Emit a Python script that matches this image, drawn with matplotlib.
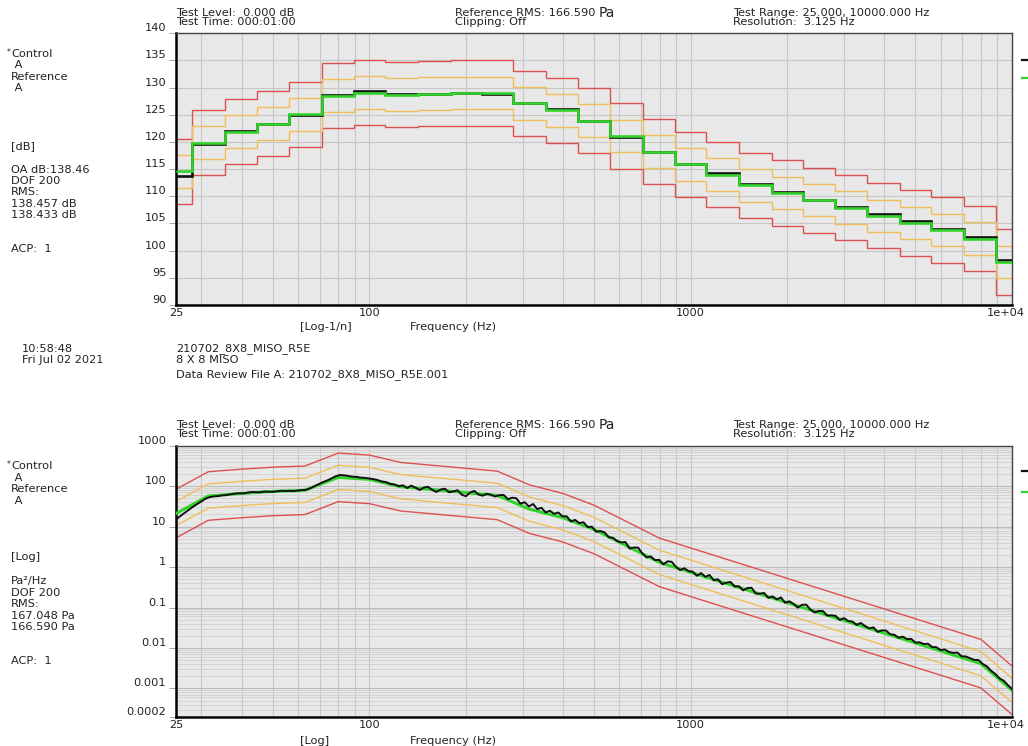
import numpy as np
import matplotlib
matplotlib.use("Agg")
import matplotlib.pyplot as plt
from matplotlib.ticker import FixedLocator, NullFormatter
from matplotlib.transforms import ScaledTranslation

plt.rcParams['font.family'] = ['DejaVu Sans']

W, H = 1028, 746

# 1/3 octave band centres and band levels for the SPL view
band_hz = [25, 31.5, 40, 50, 63, 80, 100, 125, 160, 200, 250, 315, 400, 500,
           630, 800, 1000, 1250, 1600, 2000, 2500, 3150, 4000, 5000, 6300, 8000, 10000]
band_ref_db = [114.6, 119.9, 121.9, 123.4, 125.1, 128.5, 129.1, 128.7, 128.9, 129.0,
               129.0, 127.1, 125.8, 123.9, 121.1, 118.2, 115.9, 114.0, 112.0, 110.6,
               109.3, 107.9, 106.4, 105.1, 103.8, 102.2, 97.9]
band_ctrl_db = [113.8, 119.6, 122.1, 123.4, 124.9, 128.7, 129.4, 128.8, 128.8, 129.0,
                128.9, 127.1, 126.0, 123.9, 121.0, 118.2, 116.0, 114.2, 112.2, 110.8,
                109.4, 108.1, 106.7, 105.4, 104.0, 102.5, 98.3]

# reference PSD profile breakpoints, Pa^2/Hz
ref_hz = [25, 31.5, 40, 50, 63, 80, 100, 125, 250, 315, 400, 500, 800, 8000, 10000]
ref_psd = [21, 57, 66, 74, 79, 165, 147, 97, 59, 27, 16.6, 8.5, 1.3, 0.0041, 0.0009]

# control PSD relative to the reference (dB), log-spaced 25 Hz .. 10 kHz
ctrl_dev_db = [
    -1.5, -1.2, -1.0, -0.8, -0.6, -0.5, -0.4, -0.3, -0.3, -0.2, -0.2, -0.1, -0.1,
    0.0, 0.1, 0.1, 0.0, 0.1, 0.2, 0.1, 0.0, 0.1, 0.0, -0.1, 0.0, 0.1, 0.0, 0.0, -0.1,
    0.0, 0.1, 0.0, 0.0, 0.1, 0.2, 0.3, 0.3, 0.4, 0.5, 0.6, 0.6, 0.5, 0.4, 0.4, 0.3, 0.3,
    0.2, 0.3, 0.3, 0.2, 0.3, 0.1, 0.2, 0.0,
    0.4, -0.2, 0.5, 0.1, -0.4, 0.3, 0.6, -0.1, -0.5, 0.2, 0.5, -0.3, 0.0, 0.4, -0.6,
    -0.9, 0.1, 0.6, -0.2, -0.4, 0.2, 0.0, -0.3,
    0.3, 0.8, 0.2, 1.0, 1.3, 0.4, 1.2, 0.6, 1.5, 0.5, 1.1, 0.2, 0.9, 0.4,
    1.0, 0.3, 0.7, -0.2, 0.6, 0.2, 0.8, 0.0, 0.5, -0.3, 0.4, 0.6, -0.1, 0.3, 0.0,
    0.2, 0.8, -0.3, 0.5, 1.0, 0.1, -0.4, 0.4, 0.0, 0.6, -0.2, 0.9, 1.1, 0.2, -0.3, 0.5, 0.1,
    0.3, -0.4, 0.6, 0.0, 0.8, -0.2, 0.4, -0.5, 0.2, 0.7, -0.1, 0.3, -0.4, 0.5, 0.9, -0.2,
    0.1, 0.6,
    -0.3, 0.4, 0.0, 0.8, -0.2, 0.5, 0.2, -0.4, 0.6, 1.0, 0.1, -0.3, 0.4, 0.7, -0.1, 0.3,
    0.5, -0.2, 0.6, 0.2,
    0.4, -0.1, 0.7, 0.3, 0.0, 0.6, -0.2, 0.5, 0.8, 0.2, 0.4, 0.0, 0.6, 0.3, 0.7, 0.1,
    0.5, 0.4, 0.8, 0.3,
    0.6, 0.2, 0.7, 0.4, 0.5, 0.9, 0.3, 0.6, 0.5, 0.4, 0.7, 0.3, 0.6, 0.4, 0.5, 0.3, 0.6,
    0.4, 0.3,
]

alarm_db = 3.0
abort_db = 6.0
f_lo, f_hi = 25, 10000

RED = '#dc5050'
YEL = '#f0be5a'
GRN = '#33d42a'
BLK = '#111111'
BG = '#e8e8e8'
FS = 8.2


def fx(x):
    return x / W


def fy(y):
    return 1 - y / H


fig = plt.figure(figsize=(W / 100, H / 100), dpi=100)
fig.patch.set_facecolor('white')


def text(x, y, s, **kw):
    kw.setdefault('fontsize', FS)
    return fig.text(fx(x), fy(y), s, va='center', ha=kw.pop('ha', 'left'),
                    color='#222222', **kw)


def style_axes(ax):
    ax.set_facecolor(BG)
    ax.set_xscale('log')
    ax.set_xlim(f_lo, f_hi)
    ax.xaxis.set_major_locator(FixedLocator([25, 100, 1000, 10000]))
    ax.xaxis.set_minor_locator(FixedLocator(
        [30, 40, 50, 60, 70, 80, 90] + [k * 100 for k in range(2, 10)] +
        [k * 1000 for k in range(2, 10)]))
    ax.set_xticklabels(['25', '100', '1000', '1e+04'])
    ax.xaxis.set_minor_formatter(NullFormatter())
    ax.tick_params(axis='x', which='both', length=0, pad=2.5, labelsize=FS, colors='#222222')
    ax.tick_params(axis='y', which='major', length=5, width=0.6, color='#999999',
                   pad=2, labelsize=FS, labelcolor='#222222')
    ax.tick_params(axis='y', which='minor', length=0)
    ax.grid(True, which='both', axis='x', color='#c6c6c6', lw=0.8)
    for side in ('left', 'bottom'):
        ax.spines[side].set_linewidth(1.8)
        ax.spines[side].set_color('black')
    for side in ('top', 'right'):
        ax.spines[side].set_linewidth(1.0)
        ax.spines[side].set_color('#444444')
    # keep the last frequency label inside the page
    last = ax.get_xticklabels()[-1]
    last.set_transform(last.get_transform() + ScaledTranslation(-6 / 100, 0, fig.dpi_scale_trans))


# ---- upper plot: 1/3 octave SPL ----
ax1 = fig.add_axes([fx(176), fy(305), fx(1012) - fx(176), fy(33.3) - fy(305)])
style_axes(ax1)
ax1.set_ylim(90, 140)
ax1.set_yticks(range(90, 141, 5))
ax1.grid(True, which='major', axis='y', color='#c6c6c6', lw=0.8)
for lab in ax1.get_yticklabels():
    lab.set_va('bottom')

centres = np.array(band_hz, dtype=float)
edges = np.concatenate([[f_lo], np.sqrt(centres[:-1] * centres[1:]), [f_hi]])
ref_db = np.array(band_ref_db)
for off, col in [(abort_db, RED), (-abort_db, RED), (alarm_db, YEL), (-alarm_db, YEL)]:
    ax1.stairs(ref_db + off, edges, baseline=None, color=col, lw=1.0, zorder=2)
ax1.stairs(band_ctrl_db, edges, baseline=None, color=BLK, lw=1.9, zorder=3)
ax1.stairs(band_ref_db, edges, baseline=None, color=GRN, lw=1.9, zorder=4)

# ---- lower plot: PSD ----
ax2 = fig.add_axes([fx(176), fy(716.7), fx(1012) - fx(176), fy(445.7) - fy(716.7)])
style_axes(ax2)
ax2.set_yscale('log')
ax2.set_ylim(0.0002, 1000)
yt = [0.0002, 0.001, 0.01, 0.1, 1, 10, 100, 1000]
ax2.yaxis.set_major_locator(FixedLocator(yt))
ax2.set_yticklabels(['0.0002', '0.001', '0.01', '0.1', '1', '10', '100', '1000'])
ax2.yaxis.set_minor_locator(FixedLocator(
    [m * 10.0 ** e for e in range(-4, 3) for m in range(2, 10) if m * 10.0 ** e > 0.0002]))
ax2.yaxis.set_minor_formatter(NullFormatter())
ax2.grid(True, which='major', axis='y', color='#bcbcbc', lw=0.8)
ax2.grid(True, which='minor', axis='y', color='#d0d0d0', lw=0.6)
for lab in ax2.get_yticklabels():
    lab.set_va('bottom')

rf = np.array(ref_hz, dtype=float)
rp = np.array(ref_psd)
for off, col in [(abort_db, RED), (-abort_db, RED), (alarm_db, YEL), (-alarm_db, YEL)]:
    ax2.plot(rf, rp * 10 ** (off / 10), color=col, lw=1.0, zorder=2)
ax2.plot(rf, rp, color=GRN, lw=2.2, zorder=3)

cf = np.geomspace(f_lo, f_hi, len(ctrl_dev_db))
ref_at_cf = 10 ** np.interp(np.log10(cf), np.log10(rf), np.log10(rp))
ctrl_psd = ref_at_cf * 10 ** (np.array(ctrl_dev_db) / 10)
ax2.plot(cf, ctrl_psd, color=BLK, lw=1.4, zorder=4)

# ---- annotation text ----
renderer = fig.canvas.get_renderer()
for top in (12.5, 424.5):
    text(176, top, 'Test Level:  0.000 dB')
    text(176, top + 9.5, 'Test Time: 000:01:00')
    rms = text(455, top, 'Reference RMS: 166.590 ')
    x_end = rms.get_window_extent(renderer).x1
    text(x_end, top + 0.5, 'Pa', fontsize=10)
    text(455, top + 9.5, 'Clipping: Off')
    text(733, top, 'Test Range: 25.000, 10000.000 Hz')
    text(733, top + 9.5, 'Resolution:  3.125 Hz')

left_top = [(54, '*'), (54, 'Control'), (65, ' A'), (77, 'Reference'), (88, ' A'),
            (146, '[dB]'), (170, 'OA dB:138.46'), (181, 'DOF 200'), (192, 'RMS:'),
            (204, '138.457 dB'), (215, '138.433 dB'), (249, 'ACP:  1')]
left_bot = [(466, '*'), (466, 'Control'), (478, ' A'), (489, 'Reference'), (501, ' A'),
            (557, '[Log]'), (581, 'Pa\u00b2/Hz'), (593, 'DOF 200'), (604, 'RMS:'),
            (616, '167.048 Pa'), (627, '166.590 Pa'), (661, 'ACP:  1')]
for y, s in left_top + left_bot:
    if s == '*':
        text(7, y - 2, s, fontsize=5.5)
    else:
        text(11, y, s)

text(300, 327, '[Log-1/n]')
text(410, 327, 'Frequency (Hz)')
text(300, 741, '[Log]')
text(410, 741, 'Frequency (Hz)')

text(22, 349, '10:58:48')
text(22, 360, 'Fri Jul 02 2021')
text(176, 349, '210702_8X8_MISO_R5E')
text(176, 360, '8 X 8 MISO')
text(176, 375, 'Data Review File A: 210702_8X8_MISO_R5E.001')

# legend keys clipped at the right edge
for y, col in [(60, BLK), (78, GRN), (471, BLK), (492, GRN)]:
    fig.add_artist(plt.Line2D([fx(1022), fx(1030)], [fy(y), fy(y)], color=col, lw=1.6))

fig.savefig('out.png', dpi=100)
